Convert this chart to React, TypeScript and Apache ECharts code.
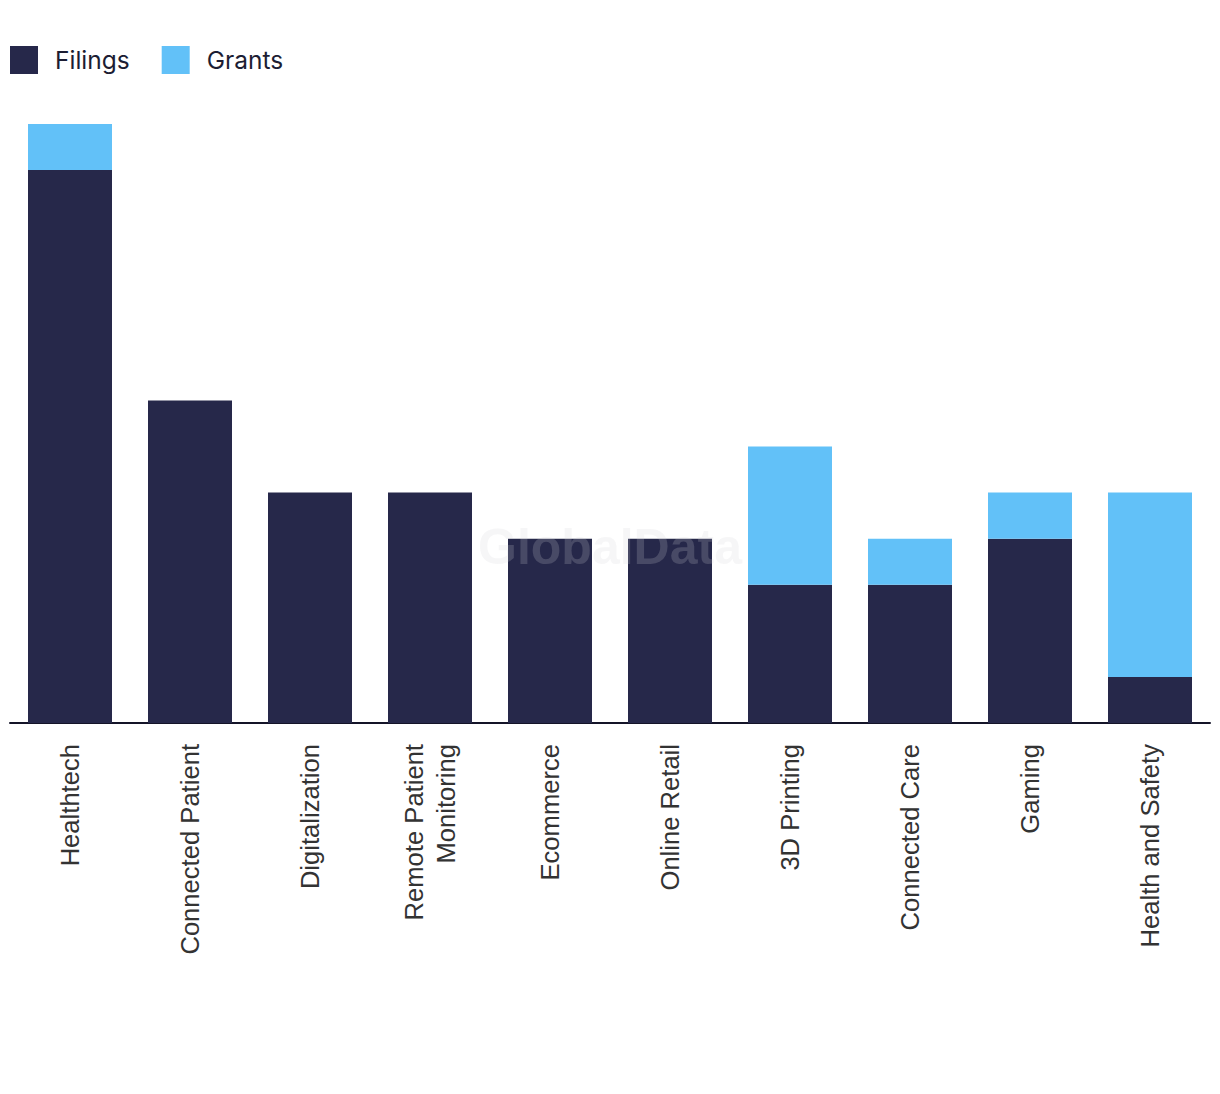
import React, { useEffect, useRef } from "react";
import * as echarts from "echarts";

const categories = [
  "Healthtech",
  "Connected Patient",
  "Digitalization",
  "Remote Patient\nMonitoring",
  "Ecommerce",
  "Online Retail",
  "3D Printing",
  "Connected Care",
  "Gaming",
  "Health and Safety",
];
const filings = [12, 7, 5, 5, 4, 4, 3, 3, 4, 1];
const grants = [1, 0, 0, 0, 0, 0, 3, 1, 1, 4];

export default function App() {
  const ref = useRef<HTMLDivElement>(null);
  useEffect(() => {
    const chart = echarts.init(ref.current!, null, { renderer: "svg" });
    chart.setOption({
      animation: false,
      legend: {
        left: 5,
        top: 41,
        itemWidth: 28,
        itemHeight: 28,
        itemGap: 32,
        icon: "rect",
        textStyle: { fontFamily: "Inter", fontSize: 24.5, color: "#1c1d33", padding: [0, 0, 3, 12] },
        data: ["Filings", "Grants"],
      },
      grid: { left: 10, right: 10, top: 124, bottom: 371, containLabel: false },
      xAxis: {
        type: "category",
        data: categories,
        axisLine: { lineStyle: { color: "#141428", width: 2 } },
        axisTick: { show: false },
        axisLabel: {
          rotate: 90,
          margin: 21,
          interval: 0,
          fontFamily: "Liberation Sans",
          fontSize: 25.6,
          color: "#333333",
          lineHeight: 32,
        },
      },
      yAxis: {
        type: "value",
        min: 0,
        max: 13,
        show: false,
        splitLine: { show: false },
      },
      series: [
        {
          name: "Filings",
          type: "bar",
          stack: "total",
          data: filings,
          barCategoryGap: "30%",
          itemStyle: { color: "#26284a" },
        },
        {
          name: "Grants",
          type: "bar",
          stack: "total",
          data: grants,
          barCategoryGap: "30%",
          itemStyle: { color: "#62c1f8" },
        },
      ],
      graphic: [
        {
          type: "text",
          left: "center",
          top: 522,
          z: 100,
          style: {
            text: "GlobalData",
            fontFamily: "Liberation Sans",
            fontWeight: "bold",
            fontSize: 50,
            fill: "rgba(208,208,215,0.2)",
          },
        },
      ],
    });
    return () => chart.dispose();
  }, []);
  return (
    <div
      ref={ref}
      style={{ position: "absolute", left: 0, top: 0, width: 1220, height: 1094 }}
    />
  );
}
